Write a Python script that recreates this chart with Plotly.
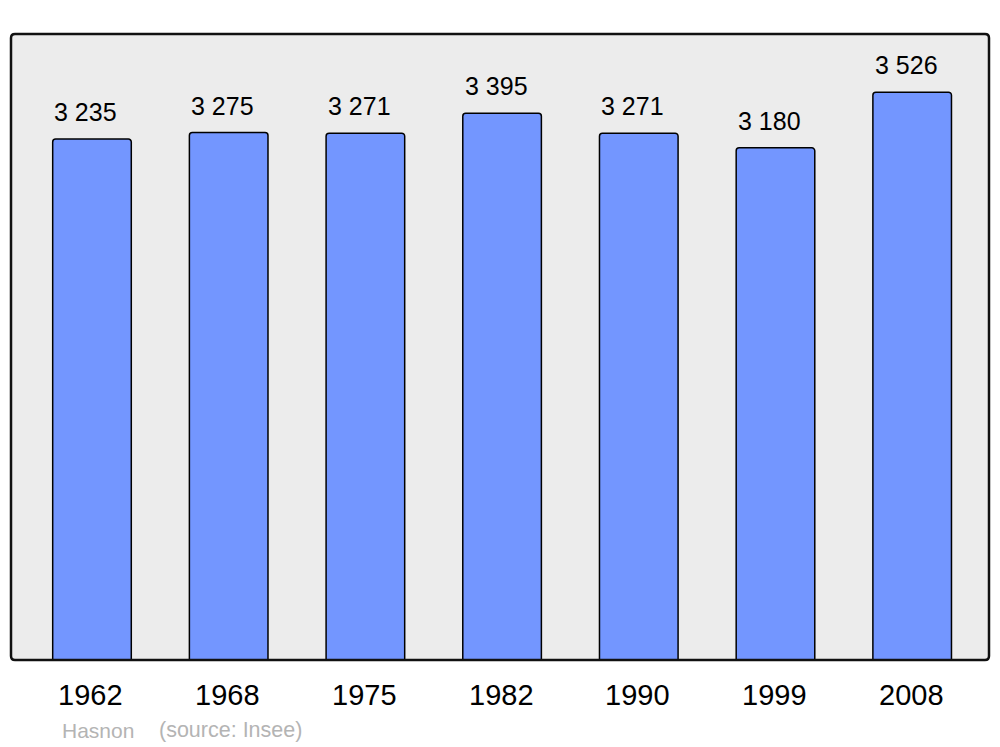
import plotly.graph_objects as go

years = ["1962", "1968", "1975", "1982", "1990", "1999", "2008"]
population = [3235, 3275, 3271, 3395, 3271, 3180, 3526]
value_labels = ["3 235", "3 275", "3 271", "3 395", "3 271", "3 180", "3 526"]
commune = "Hasnon"
source = "(source: Insee)"

OFF = 8  # page body margin
W, H = 1000 - OFF, 747 - OFF
L, R, T, B = 11 - OFF, 989 - OFF, 34 - OFF, 660 - OFF
pw, ph = R - L, B - T

FONT = "Liberation Sans, Arial, sans-serif"
idx = list(range(len(years)))

fig = go.Figure()
fig.add_trace(go.Bar(
    x=idx, y=population, width=0.575,
    marker=dict(color="#7396FF", line=dict(color="#000000", width=1.5), cornerradius=3),
    hoverinfo="skip",
))

ann = []
for i, (v, t) in enumerate(zip(population, value_labels)):
    ann.append(dict(x=i, y=v, xref="x", yref="y", text=t, showarrow=False,
                    yanchor="bottom", yshift=11, xshift=-6,
                    font=dict(family=FONT, size=25, color="#000")))
for i, yr in enumerate(years):
    ann.append(dict(x=i, y=0, xref="x", yref="y", text=yr, showarrow=False,
                    yanchor="middle", yshift=-35, xshift=-1,
                    font=dict(family=FONT, size=29, color="#000")))


def px_to_paper(px, py):
    return (px - OFF - L) / pw, (B - (py - OFF)) / ph


fx, fy = px_to_paper(60, 730)
ann.append(dict(x=fx, y=fy, xref="paper", yref="paper", xanchor="left", yanchor="middle",
                text=commune, showarrow=False,
                font=dict(family=FONT, size=21, color="#B4B4B4")))
sx, sy = px_to_paper(157, 730)
ann.append(dict(x=sx, y=sy, xref="paper", yref="paper", xanchor="left", yanchor="middle",
                text=source, showarrow=False,
                font=dict(family=FONT, size=21.5, color="#B4B4B4")))

# rounded frame in paper coords
rx, ry = 4 / pw, 4 / ph
path = (f"M {rx},0 L {1-rx},0 Q 1,0 1,{ry} L 1,{1-ry} Q 1,1 {1-rx},1 "
        f"L {rx},1 Q 0,1 0,{1-ry} L 0,{ry} Q 0,0 {rx},0 Z")

fig.update_layout(
    width=W, height=H,
    margin=dict(l=L, r=W - R, t=T, b=H - B, pad=0),
    paper_bgcolor="#FFFFFF",
    plot_bgcolor="#ECECEC",
    showlegend=False,
    xaxis=dict(range=[-0.5925, 6.562], showticklabels=False, showgrid=False, zeroline=False, fixedrange=True),
    yaxis=dict(range=[0, 3887], showticklabels=False, showgrid=False, zeroline=False, fixedrange=True),
    annotations=ann,
    shapes=[dict(type="path", xref="paper", yref="paper", path=path,
                 line=dict(color="#111111", width=2.5), layer="above")],
)

fig.write_html("out.html")
